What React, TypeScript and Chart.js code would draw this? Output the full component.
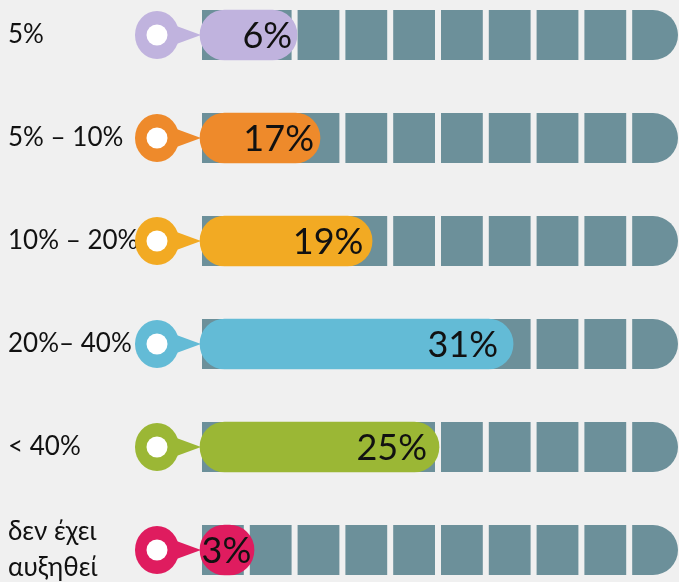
import React, { useEffect, useRef } from "react";
import { Chart, registerables } from "chart.js";

Chart.register(...registerables);

// ---- data ----
const categories: (string | string[])[] = [
  "5%",
  "5% – 10%",
  "10% – 20%",
  "20%– 40%",
  "< 40%",
  ["δεν έχει", "αυξηθεί"],
];
const percentValues = [6, 17, 19, 31, 25, 3];
// bar lengths as drawn in the infographic, on a 0–100 track
const barLengths = [20.3, 25.1, 36.0, 65.5, 50.0, 11.3];
const trackValues = [100, 100, 100, 100, 100, 100];
const barColors = ["#c0b3de", "#ee8a2b", "#f2aa23", "#63bbd6", "#9bb735", "#df1c5f"];
const trackSegments = 10;

const TRACK_COLOR = "#6c909a";
const BG = "#f0f0f0";
const FONT = "Lato, 'Open Sans', sans-serif";

const trackPlugin = {
  id: "segmentedTrack",
  beforeDatasetsDraw(chart: any) {
    const meta = chart.getDatasetMeta(1);
    const xs = chart.scales.x;
    const ctx = chart.ctx;
    const step = 100 / trackSegments;
    ctx.save();
    ctx.fillStyle = TRACK_COLOR;
    meta.data.forEach((el: any) => {
      const { y, height } = el.getProps(["y", "height"], true);
      const top = y - height / 2;
      for (let i = 0; i < trackSegments; i++) {
        const last = i === trackSegments - 1;
        const l = xs.getPixelForValue(i * step) + 2;
        const r = xs.getPixelForValue((i + 1) * step) - (last ? 0 : 4);
        ctx.beginPath();
        if (last) ctx.roundRect(l, top, r - l, height, [0, height / 2, height / 2, 0]);
        else ctx.rect(l, top, r - l, height);
        ctx.fill();
      }
    });
    ctx.restore();
  },
};

const pinPlugin = {
  id: "pinsAndLabels",
  afterDatasetsDraw(chart: any) {
    const meta = chart.getDatasetMeta(0);
    const ctx = chart.ctx;
    ctx.save();
    meta.data.forEach((el: any, i: number) => {
      const { x, y, base } = el.getProps(["x", "y", "base"], true);
      const cx = base - 43;
      ctx.fillStyle = barColors[i];
      ctx.beginPath();
      ctx.ellipse(cx, y, 22, 24, 0, 0, Math.PI * 2);
      ctx.fill();
      ctx.beginPath();
      ctx.moveTo(cx + 14, y - 11);
      ctx.lineTo(base + 1, y);
      ctx.lineTo(cx + 14, y + 11);
      ctx.closePath();
      ctx.fill();
      ctx.fillStyle = "#ffffff";
      ctx.beginPath();
      ctx.arc(cx, y, 10.5, 0, Math.PI * 2);
      ctx.fill();

      const len = x - base;
      const off = Math.min(15, len * 0.05);
      ctx.fillStyle = "#111111";
      ctx.font = `36px ${FONT}`;
      ctx.textAlign = "right";
      ctx.textBaseline = "middle";
      ctx.fillText(`${percentValues[i]}%`, x - off, y + 1);
    });
    ctx.restore();
  },
};

export default function App() {
  const ref = useRef<HTMLCanvasElement | null>(null);

  useEffect(() => {
    if (!ref.current) return;
    const chart = new Chart(ref.current, {
      type: "bar",
      data: {
        labels: categories as any,
        datasets: [
          {
            data: barLengths,
            backgroundColor: barColors,
            borderRadius: 25,
            borderSkipped: false,
            barThickness: 50,
            grouped: false,
            clip: false as any,
            order: 0,
          },
          {
            data: trackValues,
            backgroundColor: "rgba(0,0,0,0)",
            barThickness: 50,
            grouped: false,
            clip: false as any,
            order: 1,
          },
        ],
      },
      options: {
        indexAxis: "y",
        animation: false,
        responsive: true,
        maintainAspectRatio: false,
        events: [],
        layout: { padding: { left: 8, right: 1, top: 35, bottom: 32 } },
        plugins: { legend: { display: false }, tooltip: { enabled: false } },
        scales: {
          x: { display: false, min: 0, max: 100 },
          y: {
            type: "category",
            offset: false,
            grid: { display: false },
            border: { display: false },
            ticks: {
              crossAlign: "far",
              color: "#111111",
              font: { family: FONT, size: 26, lineHeight: 1.38 },
            },
            afterFit(scale: any) {
              scale.width = 192;
              scale.paddingTop = 0;
              scale.paddingBottom = 0;
            },
          },
        },
      },
      plugins: [trackPlugin, pinPlugin],
    });
    return () => chart.destroy();
  }, []);

  return (
    <div
      style={{
        position: "fixed",
        left: 0,
        top: 0,
        width: 679,
        height: 582,
        background: BG,
      }}
    >
      <canvas ref={ref} />
    </div>
  );
}
